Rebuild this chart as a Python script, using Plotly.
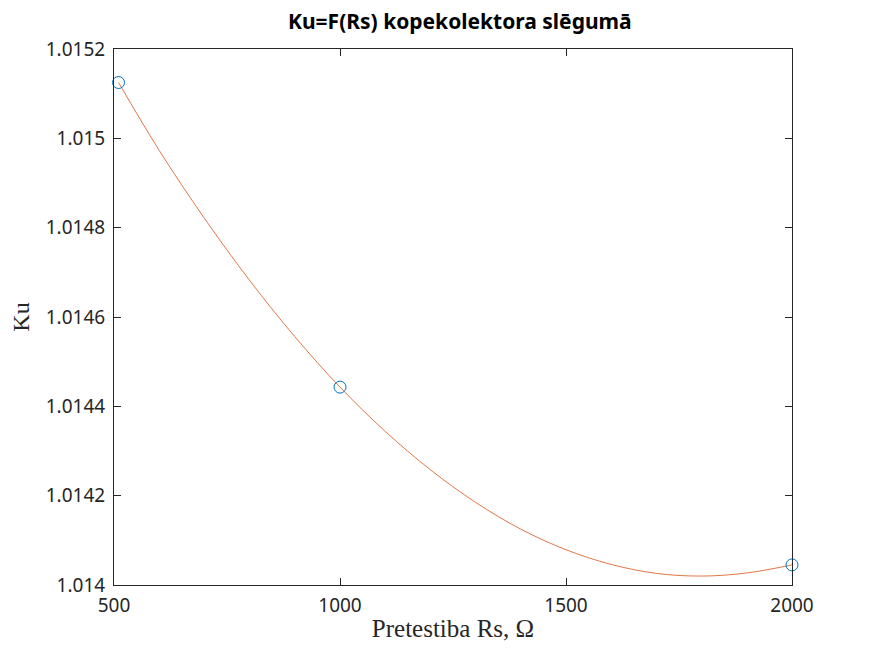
import plotly.graph_objects as go

# measured points
rs_meas = [510, 1000, 2000]
ku_meas = [1.015125, 1.014443, 1.014045]

# fitted curve
rs_fit = [510, 600, 700, 800, 900, 1000, 1100, 1200, 1300, 1400,
          1500, 1600, 1700, 1800, 1900, 2000]
ku_fit = [1.015125, 1.014973, 1.014821, 1.014682, 1.014556, 1.014443,
          1.014344, 1.014258, 1.014185, 1.014125, 1.014079, 1.014046,
          1.014026, 1.014020, 1.014027, 1.014045]

x_ticks = [500, 1000, 1500, 2000]
y_ticks = [1.014, 1.0142, 1.0144, 1.0146, 1.0148, 1.015, 1.0152]
y_labels = ["1.014", "1.0142", "1.0144", "1.0146", "1.0148", "1.015", "1.0152"]

fig = go.Figure()
fig.add_trace(go.Scatter(
    x=rs_fit, y=ku_fit, mode="lines",
    line=dict(color="#D95319", width=0.8, shape="spline"),
    showlegend=False
))
fig.add_trace(go.Scatter(
    x=rs_meas, y=ku_meas, mode="markers",
    marker=dict(symbol="circle-open", size=12, color="#0072BD",
                line=dict(width=1)),
    showlegend=False, cliponaxis=False
))

axis_style = dict(
    showline=True, linecolor="#262626", linewidth=1, mirror="allticks",
    ticks="inside", ticklen=7, tickcolor="#262626", showgrid=False,
    zeroline=False, automargin=False,
    tickfont=dict(family="Noto Sans", size=19, color="#262626")
)

# page body has an 8px margin, so the figure is a bit smaller than the window
fig.update_layout(
    width=859, height=640,
    margin=dict(l=106, r=75, t=41, b=63),
    paper_bgcolor="white", plot_bgcolor="white",
    title=dict(text="<b>Ku=F(Rs) kopekolektora slēgumā</b>", x=0.526, xanchor="center",
               y=0.978, yanchor="middle",
               font=dict(family="Noto Sans", size=21, color="black"))
)
fig.update_xaxes(
    range=[500, 2000], tickvals=x_ticks, ticklabelstandoff=3,
    title=dict(text="Pretestiba Rs, Ω", standoff=2,
               font=dict(family="Liberation Serif", size=25, color="#262626")),
    **axis_style
)
fig.update_yaxes(
    range=[1.014, 1.0152], tickvals=y_ticks, ticktext=y_labels,
    ticklabelstandoff=4,
    title=dict(text="Ku", standoff=22,
               font=dict(family="Liberation Serif", size=24, color="#262626")),
    **axis_style
)

fig.write_html("out.html")
